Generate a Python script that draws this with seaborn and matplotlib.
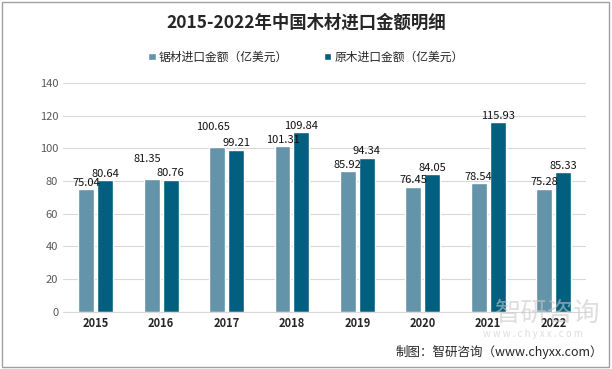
import matplotlib
matplotlib.use('Agg')
import matplotlib.pyplot as plt
import pandas as pd
import seaborn as sns
from matplotlib.patches import Rectangle

years = ["2015", "2016", "2017", "2018", "2019", "2020", "2021", "2022"]
sawn_timber = [75.04, 81.35, 100.65, 101.31, 85.92, 76.45, 78.54, 75.28]
logs = [80.64, 80.76, 99.21, 109.84, 94.34, 84.05, 115.93, 85.33]
series_names = ["锯材进口金额（亿美元）", "原木进口金额（亿美元）"]
colors = ["#6494AA", "#035F7F"]

df = pd.DataFrame({
    "year": years * 2,
    "value": sawn_timber + logs,
    "series": [series_names[0]] * len(years) + [series_names[1]] * len(years),
})

sns.set_style("white")
plt.rcParams['font.family'] = ['Noto Sans CJK SC', 'DejaVu Sans']

fig = plt.figure(figsize=(6.12, 3.69), dpi=100)
ax = fig.add_axes([0.103, 0.155, 0.855, 0.62])

sns.barplot(data=df, x="year", y="value", hue="series", palette=colors,
            width=0.58, gap=0.16, ax=ax, saturation=1)

label_sets = []
for container in ax.containers:
    label_sets.append(ax.bar_label(container, fmt="%.2f", fontsize=8, padding=1,
                                   color="#111111"))

# stagger labels when the two bars of a year are nearly the same height
for i, (a, b) in enumerate(zip(sawn_timber, logs)):
    if abs(a - b) < 3:
        higher = label_sets[0][i] if a >= b else label_sets[1][i]
        higher.xyann = (-3, 11)

ax.set_ylim(0, 140)
ax.set_yticks(range(0, 141, 20))
ax.yaxis.grid(True, color="#d9d9d9", linewidth=0.8)
ax.set_axisbelow(True)
for s in ["left", "right", "top"]:
    ax.spines[s].set_visible(False)
ax.spines["bottom"].set_color("#d9d9d9")
ax.tick_params(axis="both", length=0, labelsize=8)
ax.tick_params(axis="y", labelcolor="#595959")
ax.set_xlabel("")
ax.set_ylabel("")
ax.set_xticks(range(len(years)))
ax.set_xticklabels(years, fontweight="bold")

handles, labels = ax.get_legend_handles_labels()
ax.get_legend().remove()
fig.legend(handles, labels, loc="center", bbox_to_anchor=(0.5, 0.845), ncol=2,
           frameon=False, fontsize=8.5, handlelength=0.6, handleheight=0.6,
           columnspacing=3, handletextpad=0.3)

fig.text(0.5, 0.94, "2015-2022年中国木材进口金额明细", ha="center", va="center",
         fontsize=12.5, fontweight="bold")

# watermark
fig.text(0.895, 0.15, "智研咨询", ha="center", va="center", fontsize=19,
         color="#c8c8c8", alpha=0.6)
fig.text(0.87, 0.095, "w w w . c h y x x . c o m", ha="center", va="center",
         fontsize=7, color="#c8c8c8", alpha=0.6)

fig.text(0.985, 0.045, "制图：智研咨询（www.chyxx.com）", ha="right", va="center",
         fontsize=9)

fig.patches.append(Rectangle((0.003, 0.005), 0.992, 0.99, transform=fig.transFigure,
                             fill=False, edgecolor="#a0a0a0", linewidth=1))

fig.savefig("out.png", dpi=100)
